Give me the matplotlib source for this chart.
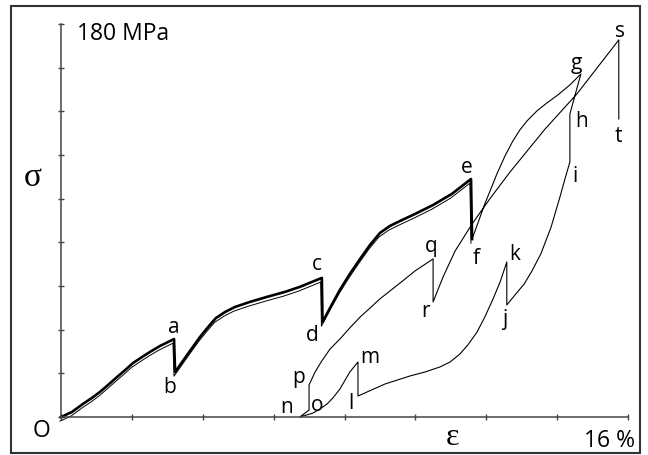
import matplotlib.pyplot as plt
from matplotlib import transforms
from matplotlib.patches import Rectangle

# strain in %, stress in MPa
# bold loading path O-a-b-c-d-e-f
eps_main = [0, 0.31, 0.62, 0.87, 1.10, 1.33, 1.58, 1.81, 2.03, 2.29, 2.51, 2.79,
            3.19, 3.22,                                                  # a, b
            3.58, 3.92, 4.15, 4.37, 4.63, 4.91, 5.33, 5.81, 6.32, 6.74,
            7.36, 7.38,                                                  # c, d
            7.62, 7.87, 8.15, 8.44, 8.72, 9.0, 9.28, 9.57, 9.99, 10.5, 11.03,
            11.57, 11.6]                                                 # e, f
sig_main = [0, 2.3, 6.0, 8.7, 11.5, 14.7, 18.3, 21.5, 24.7, 27.5, 29.8, 32.5,
            35.7, 20.6,
            28.9, 36.6, 41.2, 45.3, 48.1, 50.4, 52.7, 55.0, 57.3, 59.6,
            63.7, 43.5,
            50.8, 58.2, 65.5, 72.4, 78.8, 84.3, 87.5, 89.8, 93.0, 97.1, 102.2,
            109.0, 81.5]
main_marks = {'a': 12, 'b': 13, 'c': 24, 'd': 25, 'e': 37, 'f': 38}

# thin path f-g-h-...-s-t
eps_cyc = [11.6, 11.96, 12.30, 12.53, 12.75, 12.95, 13.15, 13.43, 13.71, 14.02,
           14.36, 14.67,                                               # g
           14.36, 14.36,                                               # h, i
           14.22, 14.08, 13.83, 13.54, 13.29, 13.07, 12.81, 12.58,     # j
           12.58,                                                      # k
           12.39, 12.19, 11.96, 11.74, 11.48, 11.26, 10.98, 10.69, 10.27,
           9.85, 9.14, 8.38,                                           # l
           8.38,                                                       # m
           8.15, 7.87, 7.67, 7.51, 7.31, 7.11, 6.74,                   # n
           7.0, 7.0,                                                   # o, p
           7.17, 7.36, 7.59, 7.87, 8.15, 8.44, 8.72, 9.0, 9.57, 9.99,
           10.5, 10.5,                                                 # q, r
           10.78, 11.12, 11.6, 12.1, 12.67, 13.66, 14.56,
           15.74, 15.74]                                               # s, t
sig_cyc = [81.5, 97.6, 111.3, 119.6, 126.4, 131.5, 135.6, 140.2, 143.8, 147.5,
           152.1, 157.1,
           138.8, 116.8,
           109.0, 100.8, 87.0, 74.7, 66.9, 60.9, 55.9, 51.3,
           71.0,
           61.8, 54.0, 45.8, 38.9, 33.0, 28.9, 25.2, 22.9, 20.6,
           18.8, 15.1, 9.6,
           25.2,
           20.6, 12.8, 8.7, 6.0, 3.7, 1.8, 0.0,
           3.2, 14.7,
           20.6, 25.7, 31.1, 35.7, 40.8, 45.8, 49.9, 54.1, 61.4, 66.9,
           72.4, 52.7,
           64.1, 76.0, 88.4, 99.9, 112.2, 131.9, 148.0,
           172.7, 136.5]
cyc_marks = {'g': 11, 'h': 12, 'i': 13, 'j': 21, 'k': 22, 'l': 34, 'm': 35,
             'n': 42, 'o': 43, 'p': 44, 'q': 55, 'r': 56, 's': 64, 't': 65}

# where each letter sits relative to its point (pixels)
label_off = {'a': (0, 13), 'b': (-5, -14), 'c': (-5, 14), 'd': (-10, -12),
             'e': (-4, 13), 'f': (4, -18), 'g': (-5, 11), 'h': (12, -7),
             'i': (5, -14), 'j': (-2, -14), 'k': (8, 8), 'l': (-7, -6),
             'm': (12, 5), 'n': (-13, 10), 'o': (8, 6), 'p': (-10, 8),
             'q': (-2, 13), 'r': (-8, -9), 's': (1, 9), 't': (0, -17)}

plt.rcParams['font.family'] = ['Open Sans', 'DejaVu Sans']

fig = plt.figure(figsize=(6.48, 4.56), dpi=100)
ax = fig.add_axes([61 / 648, 1 - 418 / 456, 567 / 648, 393 / 456])
ax.set_xlim(0, 16)
ax.set_ylim(0, 180)
ax.set_facecolor('none')
for side in ['top', 'right']:
    ax.spines[side].set_visible(False)
for side in ['left', 'bottom']:
    ax.spines[side].set_color('#444444')
    ax.spines[side].set_linewidth(1.1)
ax.set_xticks(range(0, 17, 2))
ax.set_yticks(range(0, 181, 20))
ax.tick_params(direction='inout', length=5, width=1, color='#444444',
               labelbottom=False, labelleft=False)

# outer frame
fig.add_artist(Rectangle((11 / 648, 1 - 454 / 456), 629 / 648, 447 / 456,
                         transform=fig.transFigure, fill=False,
                         edgecolor='#333333', linewidth=1.5))

# bold path with its thin twin just below it
ax.plot(eps_main, sig_main, color='black', lw=1.9, clip_on=False)
twin = transforms.offset_copy(ax.transData, fig=fig, x=-0.8, y=-3.0,
                              units='points')
ax.plot(eps_main, sig_main, color='black', lw=0.7, transform=twin,
        clip_on=False)
ax.plot(eps_cyc, sig_cyc, color='black', lw=0.8, clip_on=False)


def put_labels(xs, ys, marks):
    for name, idx in marks.items():
        dx, dy = label_off[name]
        ax.annotate(name, (xs[idx], ys[idx]), xytext=(dx * 0.72, dy * 0.72),
                    textcoords='offset points', ha='center', va='center',
                    fontsize=15, annotation_clip=False)


put_labels(eps_main, sig_main, main_marks)
put_labels(eps_cyc, sig_cyc, cyc_marks)

ax.text(0.45, 176, '180 MPa', fontsize=16.5, ha='left', va='center')
ax.text(-0.049, 0.611, 'σ', transform=ax.transAxes, fontsize=24,
        family='Liberation Serif', ha='center', va='center')
ax.text(-0.035, -0.033, 'O', transform=ax.transAxes, fontsize=16.5,
        ha='center', va='center')
ax.text(0.69, -0.05, 'ε', transform=ax.transAxes, fontsize=23,
        family='Liberation Serif', ha='center', va='center')
ax.text(0.968, -0.059, '16 %', transform=ax.transAxes, fontsize=16.5,
        ha='center', va='center')

fig.savefig('out.png', dpi=100)
